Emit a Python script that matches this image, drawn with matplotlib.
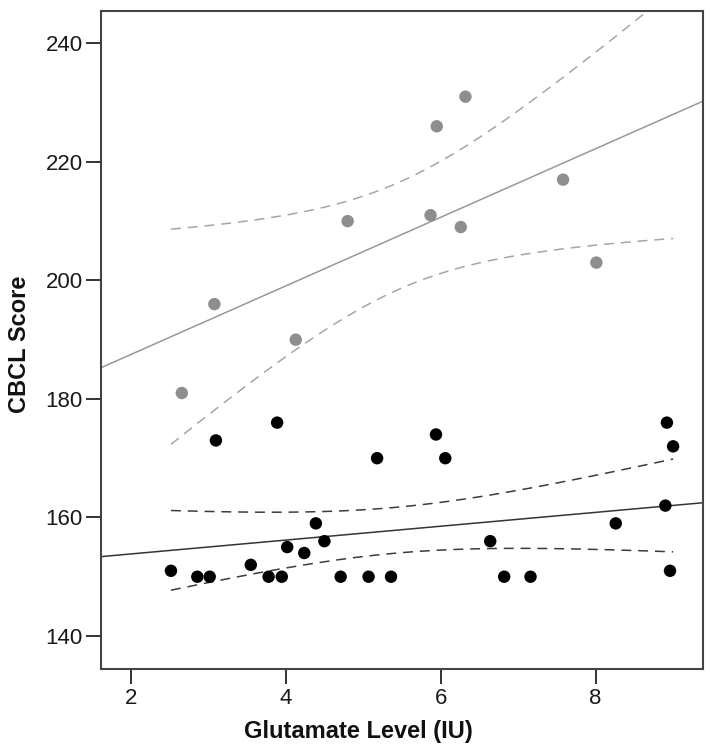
import numpy as np
import matplotlib
matplotlib.use("Agg")
import matplotlib.pyplot as plt

plt.rcParams['font.family'] = ['Liberation Sans', 'DejaVu Sans']

# ---- data ----
gray_x = [2.66, 3.08, 4.13, 4.80, 5.87, 5.95, 6.26, 6.32, 7.58, 8.01]
gray_y = [181, 196, 190, 210, 211, 226, 209, 231, 217, 203]

black_x = [2.52, 2.86, 3.02, 3.10, 3.55, 3.78, 3.89, 3.95, 4.02, 4.24, 4.39,
           4.50, 4.71, 5.07, 5.18, 5.36, 5.94, 6.06, 6.64, 6.82, 7.16, 8.26,
           8.90, 8.92, 8.96, 9.00]
black_y = [151, 150, 150, 173, 152, 150, 176, 150, 155, 154, 159,
           156, 150, 150, 170, 150, 174, 170, 156, 150, 150, 159,
           162, 176, 151, 172]

# fitted regression lines
gray_intercept, gray_slope = 175.9, 5.79
black_intercept, black_slope = 151.5, 1.17

# two-sided 95% t critical values by degrees of freedom
t_975 = {8: 2.306, 24: 2.064}

x_ticks = [2, 4, 6, 8]
y_ticks = [140, 160, 180, 200, 220, 240]
x_label = "Glutamate Level (IU)"
y_label = "CBCL Score"

# ---- figure ----
fig = plt.figure(figsize=(7.1, 7.5), dpi=100)
ax = fig.add_axes([0.1418, 0.108, 0.8488, 0.8773])
ax.set_xlim(1.613, 9.39)
ax.set_ylim(134.43, 245.45)

xgrid = np.linspace(min(min(gray_x), min(black_x)), max(max(gray_x), max(black_x)), 300)


def mean_ci(xs, ys, b0, b1):
    xs = np.asarray(xs, float)
    ys = np.asarray(ys, float)
    n = len(xs)
    resid = ys - (b0 + b1 * xs)
    s = np.sqrt(np.sum(resid ** 2) / (n - 2))
    sxx = np.sum((xs - xs.mean()) ** 2)
    half = t_975[n - 2] * s * np.sqrt(1.0 / n + (xgrid - xs.mean()) ** 2 / sxx)
    mid = b0 + b1 * xgrid
    return mid - half, mid + half


groups = [
    (gray_x, gray_y, gray_intercept, gray_slope, '#8e8e8e', '#989898', '#a6a6a6'),
    (black_x, black_y, black_intercept, black_slope, '#000000', '#353535', '#3c3c3c'),
]

for xs, ys, b0, b1, pc, lc, dc in groups:
    ax.axline((0, b0), slope=b1, color=lc, lw=1.1, zorder=2)
    lo, hi = mean_ci(xs, ys, b0, b1)
    for band in (lo, hi):
        ax.plot(xgrid, band, color=dc, lw=1.1, dashes=(6.5, 4.5), zorder=2)
    ax.scatter(xs, ys, s=80, color=pc, edgecolors='none', zorder=3)

ax.set_xticks(x_ticks)
ax.set_yticks(y_ticks)
ax.tick_params(axis='both', which='major', direction='out', length=10.5,
               width=1.4, color='#333333', labelsize=16, labelcolor='#1a1a1a')
ax.tick_params(axis='y', pad=2.4)
ax.tick_params(axis='x', pad=3.5)
for sp in ax.spines.values():
    sp.set_linewidth(1.5)
    sp.set_color('#444444')

ax.set_xlabel(x_label, fontsize=17, fontweight='bold', color='#111111')
ax.xaxis.label.set_va('baseline')
ax.xaxis.set_label_coords(0.427, -0.1049)
ax.set_ylabel(y_label, fontsize=17, fontweight='bold', color='#111111')
ax.yaxis.label.set_va('center')
ax.yaxis.set_label_coords(-0.134, 0.494)

fig.savefig("out.png", dpi=100)
